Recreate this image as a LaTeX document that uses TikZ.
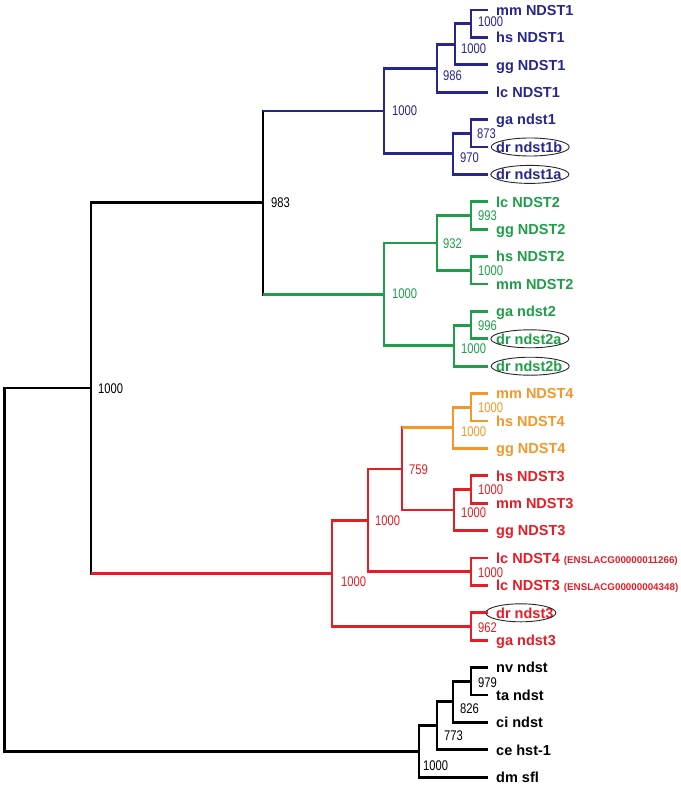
\documentclass[tikz,border=0pt]{standalone}
\usepackage{fontspec}
\setmainfont{Liberation Sans}
\newfontfamily\labfont{Liberation Sans}
\newfontfamily\numfont[FakeStretch=0.8]{Liberation Sans}
\definecolor{cblue}{RGB}{38,38,140}
\definecolor{cgreen}{RGB}{30,158,72}
\definecolor{corange}{RGB}{246,150,40}
\definecolor{cred}{RGB}{232,28,36}
\tikzset{
  br/.style={line width=2.8pt},
  leaf/.style={anchor=west, inner xsep=8pt, inner ysep=0pt, text height=10.4pt, text depth=0pt,
    font=\labfont\bfseries\fontsize{14.5}{15}\selectfont},
  bs/.style={anchor=west, inner sep=0pt, text height=10pt, text depth=0pt, font=\numfont\fontsize{14}{15}\selectfont},
  ovalline/.style={line width=0.9pt, black!85}
}
\newcommand\ed[3]{\draw[br,#3] (#1) |- (#2);}
\newcommand\edmix[4]{\draw[br,#3,line cap=rect] (#1) -- (#1 |- #2); \draw[br,#4] (#1 |- #2) -- (#2);}
\begin{document}
\begin{tikzpicture}[x=1pt,y=-1pt]
\useasboundingbox (0,0) rectangle (680,787);
% ---------- leaves ----------
\node[leaf,cblue] (mm1) at (488,10) {mm NDST1};
\node[leaf,cblue] (hs1) at (488,37.4) {hs NDST1};
\node[leaf,cblue] (gg1) at (488,64.8) {gg NDST1};
\node[leaf,cblue] (lc1) at (488,92.2) {lc NDST1};
\node[leaf,cblue] (ga1) at (488,119.6) {ga ndst1};
\node[leaf,cblue] (dr1b) at (488,147) {dr ndst1b};
\node[leaf,cblue] (dr1a) at (488,174.4) {dr ndst1a};
\node[leaf,cgreen] (lc2) at (488,201.8) {lc NDST2};
\node[leaf,cgreen] (gg2) at (488,229.2) {gg NDST2};
\node[leaf,cgreen] (hs2) at (488,256.6) {hs NDST2};
\node[leaf,cgreen] (mm2) at (488,284) {mm NDST2};
\node[leaf,cgreen] (ga2) at (488,311.4) {ga ndst2};
\node[leaf,cgreen] (dr2a) at (488,338.8) {dr ndst2a};
\node[leaf,cgreen] (dr2b) at (488,366.2) {dr ndst2b};
\node[leaf,corange] (mm4) at (488,393.6) {mm NDST4};
\node[leaf,corange] (hs4) at (488,421) {hs NDST4};
\node[leaf,corange] (gg4) at (488,448.4) {gg NDST4};
\node[leaf,cred] (hs3) at (488,475.8) {hs NDST3};
\node[leaf,cred] (mm3) at (488,503.2) {mm NDST3};
\node[leaf,cred] (gg3) at (488,530.6) {gg NDST3};
\node[leaf,cred] (lc4) at (488,558) {lc NDST4 {\fontsize{9.8}{10}\selectfont (ENSLACG00000011266)}};
\node[leaf,cred] (lc3) at (488,585.4) {lc NDST3 {\fontsize{9.8}{10}\selectfont (ENSLACG00000004348)}};
\node[leaf,cred] (dr3) at (488,612.8) {dr ndst3};
\node[leaf,cred] (ga3) at (488,640.2) {ga ndst3};
\node[leaf,black] (nv) at (488,667.6) {nv ndst};
\node[leaf,black] (ta) at (488,695) {ta ndst};
\node[leaf,black] (ci) at (488,722.4) {ci ndst};
\node[leaf,black] (ce) at (488,749.8) {ce hst-1};
\node[leaf,black] (dm) at (488,777.2) {dm sfl};
% ovals
\draw[ovalline] ([xshift=1pt]dr1b.center) ellipse [x radius=39pt, y radius=9pt];
\draw[ovalline] ([xshift=1pt]dr1a.center) ellipse [x radius=39pt, y radius=9pt];
\draw[ovalline] ([xshift=1pt]dr2a.center) ellipse [x radius=39pt, y radius=9pt];
\draw[ovalline] ([xshift=1pt]dr2b.center) ellipse [x radius=39pt, y radius=9pt];
\draw[ovalline] ([xshift=-4pt]dr3.center) ellipse [x radius=35pt, y radius=9pt];
% ---------- internal nodes ----------
\coordinate (nA) at (471,23.7);
\coordinate (nB) at (455,44.25);
\coordinate (nC) at (437,68.2);
\coordinate (nD) at (471,133.3);
\coordinate (nE) at (453,153.85);
\coordinate (nF) at (384,111);
\coordinate (gA) at (471,215.5);
\coordinate (gB) at (471,270.3);
\coordinate (gC) at (437,242.9);
\coordinate (gD) at (471,325.1);
\coordinate (gE) at (454,345.65);
\coordinate (gF) at (384,294.3);
\coordinate (n983) at (263,202.65);
\coordinate (oA) at (471,407.3);
\coordinate (oB) at (453,427.85);
\coordinate (rA) at (471,489.5);
\coordinate (rB) at (454,510.05);
\coordinate (r759) at (402,468.95);
\coordinate (rC) at (471,571.7);
\coordinate (rK) at (368,520.3);
\coordinate (rD) at (471,626.5);
\coordinate (rR) at (332,573.4);
\coordinate (root2) at (91,388);
\coordinate (bA) at (471,681.3);
\coordinate (bB) at (453,701.85);
\coordinate (bC) at (437,725.8);
\coordinate (bD) at (419,751.5);
\coordinate (root) at (4.5,569.75);
% ---------- branches ----------
\ed{nA}{mm1.west}{cblue} \ed{nA}{hs1.west}{cblue}
\ed{nB}{nA}{cblue} \ed{nB}{gg1.west}{cblue}
\ed{nC}{nB}{cblue} \ed{nC}{lc1.west}{cblue}
\ed{nD}{ga1.west}{cblue} \ed{nD}{dr1b.west}{cblue}
\ed{nE}{nD}{cblue} \ed{nE}{dr1a.west}{cblue}
\ed{nF}{nC}{cblue} \ed{nF}{nE}{cblue}
\ed{gA}{lc2.west}{cgreen} \ed{gA}{gg2.west}{cgreen}
\ed{gB}{hs2.west}{cgreen} \ed{gB}{mm2.west}{cgreen}
\ed{gC}{gA}{cgreen} \ed{gC}{gB}{cgreen}
\ed{gD}{ga2.west}{cgreen} \ed{gD}{dr2a.west}{cgreen}
\ed{gE}{gD}{cgreen} \ed{gE}{dr2b.west}{cgreen}
\ed{gF}{gC}{cgreen} \ed{gF}{gE}{cgreen}
\edmix{n983}{nF}{black}{cblue} \edmix{n983}{gF}{black}{cgreen}
\ed{oA}{mm4.west}{corange} \ed{oA}{hs4.west}{corange}
\ed{oB}{oA}{corange} \ed{oB}{gg4.west}{corange}
\ed{rA}{hs3.west}{cred} \ed{rA}{mm3.west}{cred}
\ed{rB}{rA}{cred} \ed{rB}{gg3.west}{cred}
\edmix{r759}{oB}{cred}{corange} \ed{r759}{rB}{cred}
\ed{rC}{lc4.west}{cred} \ed{rC}{lc3.west}{cred}
\ed{rK}{r759}{cred} \ed{rK}{rC}{cred}
\ed{rD}{dr3.west}{cred} \ed{rD}{ga3.west}{cred}
\ed{rR}{rK}{cred} \ed{rR}{rD}{cred}
\ed{root2}{n983}{black} \edmix{root2}{rR}{black}{cred}
\ed{bA}{nv.west}{black} \ed{bA}{ta.west}{black}
\ed{bB}{bA}{black} \ed{bB}{ci.west}{black}
\ed{bC}{bB}{black} \ed{bC}{ce.west}{black}
\ed{bD}{bC}{black} \ed{bD}{dm.west}{black}
\ed{root}{root2}{black} \ed{root}{bD}{black}
% ---------- bootstrap values ----------
\node[bs,cblue] (vA) at (478,22) {1000};
\node[bs,cblue] (vB) at (461,48) {1000};
\node[bs,cblue] (vC) at (443,75) {986};
\node[bs,cblue] (vF) at (392,110) {1000};
\node[bs,cblue] (vD) at (477,133) {873};
\node[bs,cblue] (vE) at (460,157) {970};
\node[bs,cgreen] (wA) at (478,215) {993};
\node[bs,cgreen] (wB) at (478,270) {1000};
\node[bs,cgreen] (wC) at (443,243) {932};
\node[bs,cgreen] (wF) at (392,293) {1000};
\node[bs,cgreen] (wD) at (478,325) {996};
\node[bs,cgreen] (wE) at (461,348) {1000};
\node[bs,black] (v983) at (271,202) {983};
\node[bs,corange] (uA) at (478,407) {1000};
\node[bs,corange] (uB) at (461,431) {1000};
\node[bs,cred] (s759) at (409,469) {759};
\node[bs,cred] (sA) at (478,489) {1000};
\node[bs,cred] (sB) at (461,512) {1000};
\node[bs,cred] (sK) at (375,520) {1000};
\node[bs,cred] (sC) at (478,572) {1000};
\node[bs,cred] (sR) at (341,581) {1000};
\node[bs,cred] (sD) at (478,627) {962};
\node[bs,black] (vroot2) at (98,388) {1000};
\node[bs,black] (tA) at (478,682) {979};
\node[bs,black] (tB) at (460,708) {826};
\node[bs,black] (tC) at (444,735) {773};
\node[bs,black] (tD) at (423,765) {1000};
\end{tikzpicture}
\end{document}
